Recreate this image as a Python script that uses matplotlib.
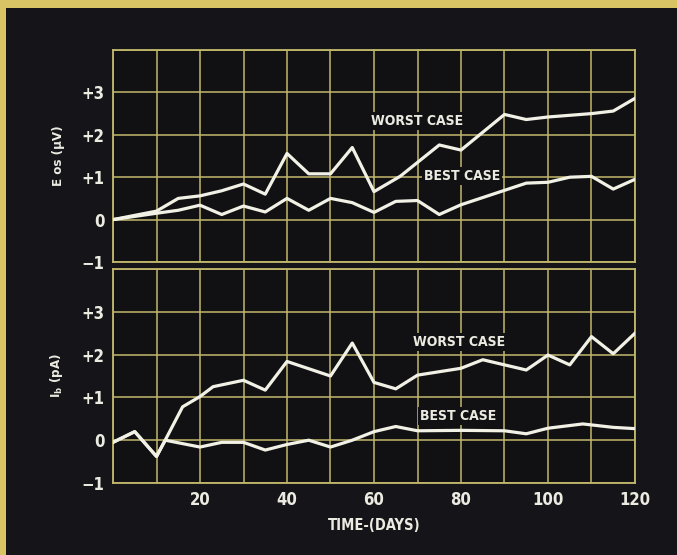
import matplotlib
matplotlib.use("Agg")
import matplotlib.pyplot as plt
from matplotlib.patches import Rectangle

# Offset voltage drift, E_os (µV)
eos_worst_days = [0, 10, 15, 20, 25, 30, 35, 40, 45, 50, 55, 60, 66, 75, 80, 90, 95, 100, 110, 115, 120]
eos_worst = [0.0, 0.2, 0.5, 0.56, 0.68, 0.84, 0.6, 1.56, 1.08, 1.08, 1.7, 0.66, 1.02, 1.76, 1.64, 2.48, 2.36, 2.42, 2.5, 2.56, 2.86]
eos_best_days = [0, 10, 15, 20, 25, 30, 35, 40, 45, 50, 55, 60, 65, 70, 75, 80, 95, 100, 105, 110, 115, 120]
eos_best = [0.0, 0.15, 0.22, 0.34, 0.12, 0.32, 0.18, 0.5, 0.22, 0.5, 0.4, 0.17, 0.43, 0.45, 0.12, 0.35, 0.86, 0.88, 1.0, 1.02, 0.72, 0.95]

# Bias current drift, I_b (pA)
ib_worst_days = [0, 5, 10, 12, 16, 20, 23, 30, 35, 40, 50, 55, 60, 65, 70, 80, 85, 90, 95, 100, 105, 110, 115, 120]
ib_worst = [-0.05, 0.2, -0.38, 0.0, 0.78, 1.02, 1.25, 1.4, 1.17, 1.84, 1.5, 2.27, 1.35, 1.2, 1.52, 1.68, 1.88, 1.76, 1.64, 1.99, 1.76, 2.42, 2.02, 2.5]
ib_best_days = [0, 5, 10, 12, 20, 25, 30, 35, 40, 45, 50, 55, 60, 65, 70, 80, 90, 95, 100, 108, 115, 120]
ib_best = [-0.05, 0.2, -0.38, 0.0, -0.16, -0.05, -0.05, -0.23, -0.1, 0.0, -0.16, 0.0, 0.2, 0.32, 0.22, 0.23, 0.22, 0.15, 0.28, 0.38, 0.3, 0.27]

x_ticks = [20, 40, 60, 80, 100, 120]
y_ticks = [-1, 0, 1, 2, 3]
y_ticklabels = ["\u22121", "0", "+1", "+2", "+3"]

plt.rcParams["font.family"] = ["DejaVu Sans"]
plt.rcParams["font.stretch"] = "condensed"
plt.rcParams["font.weight"] = "bold"

FIG_BG = "#141419"
AX_BG = "#111113"
GRID = "#c2b86c"
LINE = "#f1f1e6"
TEXT = "#ecebe2"

fig = plt.figure(figsize=(6.77, 5.55), dpi=100, facecolor=FIG_BG)

# yellow page edges
fig.patches.append(Rectangle((0, 0), 6 / 677, 1, transform=fig.transFigure,
                             facecolor="#d9c465", edgecolor="none", zorder=0))
fig.patches.append(Rectangle((0, 1 - 8 / 555), 1, 8 / 555, transform=fig.transFigure,
                             facecolor="#d9c465", edgecolor="none", zorder=0))

left, right = 113 / 677, 635 / 677
ax_top = fig.add_axes([left, 1 - 262 / 555, right - left, (262 - 50) / 555])
ax_bot = fig.add_axes([left, 1 - 483 / 555, right - left, (483 - 269) / 555])


def style(ax):
    ax.set_facecolor(AX_BG)
    ax.set_xlim(0, 120)
    ax.set_ylim(-1, 4)
    ax.set_xticks(range(0, 121, 10))
    ax.grid(True, color=GRID, linewidth=1.1)
    ax.set_axisbelow(True)
    for s in ax.spines.values():
        s.set_color(GRID)
        s.set_linewidth(1.3)
    ax.tick_params(length=0, colors=TEXT, labelsize=12, pad=6)
    ax.set_yticks(y_ticks + [4])
    ax.set_yticklabels(y_ticklabels + [""], fontweight="bold", fontstretch="condensed", color=TEXT)


style(ax_top)
style(ax_bot)
ax_top.set_xticklabels([])
ax_bot.set_xticks(range(0, 121, 10))
ax_bot.set_xticklabels([str(d) if d in x_ticks else "" for d in range(0, 121, 10)],
                       fontweight="bold", fontstretch="condensed", color=TEXT)

lw = 2.3
ax_top.plot(eos_worst_days, eos_worst, color=LINE, lw=lw, zorder=3)
ax_top.plot(eos_best_days, eos_best, color=LINE, lw=lw, zorder=3)
ax_bot.plot(ib_worst_days, ib_worst, color=LINE, lw=lw, zorder=3)
ax_bot.plot(ib_best_days, ib_best, color=LINE, lw=lw, zorder=3)

box = dict(facecolor=AX_BG, edgecolor="none", pad=1.5)
lab = dict(color=TEXT, fontsize=10, fontweight="bold", fontstretch="condensed",
           ha="center", va="center", bbox=box, zorder=4)
ax_top.text(69.8, 2.32, "WORST CASE", **lab)
ax_top.text(80.2, 1.02, "BEST CASE", **lab)
ax_bot.text(79.5, 2.29, "WORST CASE", **lab)
ax_bot.text(79.3, 0.56, "BEST CASE", **lab)

ax_top.set_ylabel("E os (\u03bcV)", color=TEXT, fontsize=9.5, fontweight="bold",
                  fontstretch="condensed", labelpad=12)
ax_bot.set_ylabel(r"I$_\mathrm{b}$ (pA)", color=TEXT, fontsize=9.5, fontweight="bold",
                  fontstretch="condensed", labelpad=12)
ax_bot.set_xlabel("TIME-(DAYS)", color=TEXT, fontsize=10.5, fontweight="bold",
                  fontstretch="condensed", labelpad=6)

fig.savefig("out.png", dpi=100, facecolor=FIG_BG)
